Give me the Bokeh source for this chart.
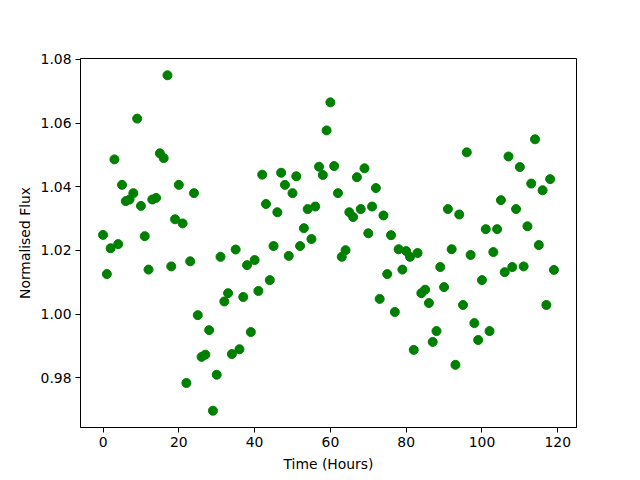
from bokeh.plotting import figure
from bokeh.models import Range1d, FixedTicker, PrintfTickFormatter, ColumnDataSource
from bokeh.embed import file_html
from bokeh.resources import INLINE

hours = list(range(120))
flux = [
    1.0249, 1.0126, 1.0207, 1.0486, 1.0220, 1.0406, 1.0355, 1.0360, 1.0380, 1.0614,
    1.0340, 1.0245, 1.0140, 1.0360, 1.0365, 1.0505, 1.0490, 1.0750, 1.0150, 1.0298,
    1.0406, 1.0285, 0.9784, 1.0166, 1.0380, 0.9997, 0.9866, 0.9873, 0.9950, 0.9697,
    0.9810, 1.0180, 1.0040, 1.0066, 0.9875, 1.0203, 0.9890, 1.0054, 1.0154, 0.9944,
    1.0170, 1.0073, 1.0438, 1.0346, 1.0107, 1.0214, 1.0320, 1.0444, 1.0406, 1.0183,
    1.0380, 1.0433, 1.0214, 1.0270, 1.0330, 1.0236, 1.0338, 1.0463, 1.0437, 1.0577,
    1.0665, 1.0465, 1.0380, 1.0180, 1.0201, 1.0320, 1.0305, 1.0430, 1.0330, 1.0458,
    1.0254, 1.0338, 1.0396, 1.0048, 1.0310, 1.0126, 1.0248, 1.0007, 1.0204, 1.0140,
    1.0198, 1.0180, 0.9888, 1.0192, 1.0066, 1.0077, 1.0035, 0.9913, 0.9947, 1.0148,
    1.0085, 1.0330, 1.0204, 0.9841, 1.0313, 1.0029, 1.0508, 1.0186, 0.9972, 0.9919,
    1.0107, 1.0267, 0.9947, 1.0195, 1.0267, 1.0358, 1.0132, 1.0495, 1.0148, 1.0330,
    1.0462, 1.0150, 1.0276, 1.0410, 1.0549, 1.0217, 1.0389, 1.0029, 1.0424, 1.0139,
]
x_ticks = [0, 20, 40, 60, 80, 100, 120]
y_ticks = [0.98, 1.00, 1.02, 1.04, 1.06, 1.08]

xmin, xmax = min(hours), max(hours)
ymin, ymax = min(flux), max(flux)
xm = 0.05 * (xmax - xmin)
ym = 0.05 * (ymax - ymin)

p = figure(width=640, height=480, output_backend="svg", toolbar_location=None,
           x_range=Range1d(xmin - xm, xmax + xm), y_range=Range1d(ymin - ym, ymax + ym),
           min_border_left=80, min_border_right=64, min_border_top=58, min_border_bottom=53)
p.background_fill_color = "white"
p.border_fill_color = "white"
p.outline_line_color = "black"
p.outline_line_width = 1
p.xgrid.visible = False
p.ygrid.visible = False

src = ColumnDataSource(dict(x=hours, y=flux))
p.scatter("x", "y", source=src, size=9, marker="circle", fill_color="#008000", line_color="#008000")

p.xaxis.ticker = FixedTicker(ticks=x_ticks)
p.yaxis.ticker = FixedTicker(ticks=y_ticks)
p.yaxis.formatter = PrintfTickFormatter(format="%.2f")
p.xaxis.axis_label = "Time (Hours)"
p.yaxis.axis_label = "Normalised Flux"
for ax in (p.xaxis, p.yaxis):
    ax.major_label_text_font = "DejaVu Sans"
    ax.major_label_text_font_size = "13.9px"
    ax.major_label_text_color = "black"
    ax.axis_label_text_font = "DejaVu Sans"
    ax.axis_label_text_font_size = "13.9px"
    ax.axis_label_text_font_style = "normal"
    ax.axis_label_text_color = "black"
    ax.major_tick_out = 5
    ax.major_tick_in = 0
    ax.minor_tick_out = 0
    ax.minor_tick_in = 0
    ax.major_tick_line_color = "black"
    ax.axis_line_color = "black"
    ax.major_label_standoff = 4
p.xaxis.axis_label_standoff = 6
p.yaxis.axis_label_standoff = 5

open("out.html", "w").write(file_html(p, INLINE))
